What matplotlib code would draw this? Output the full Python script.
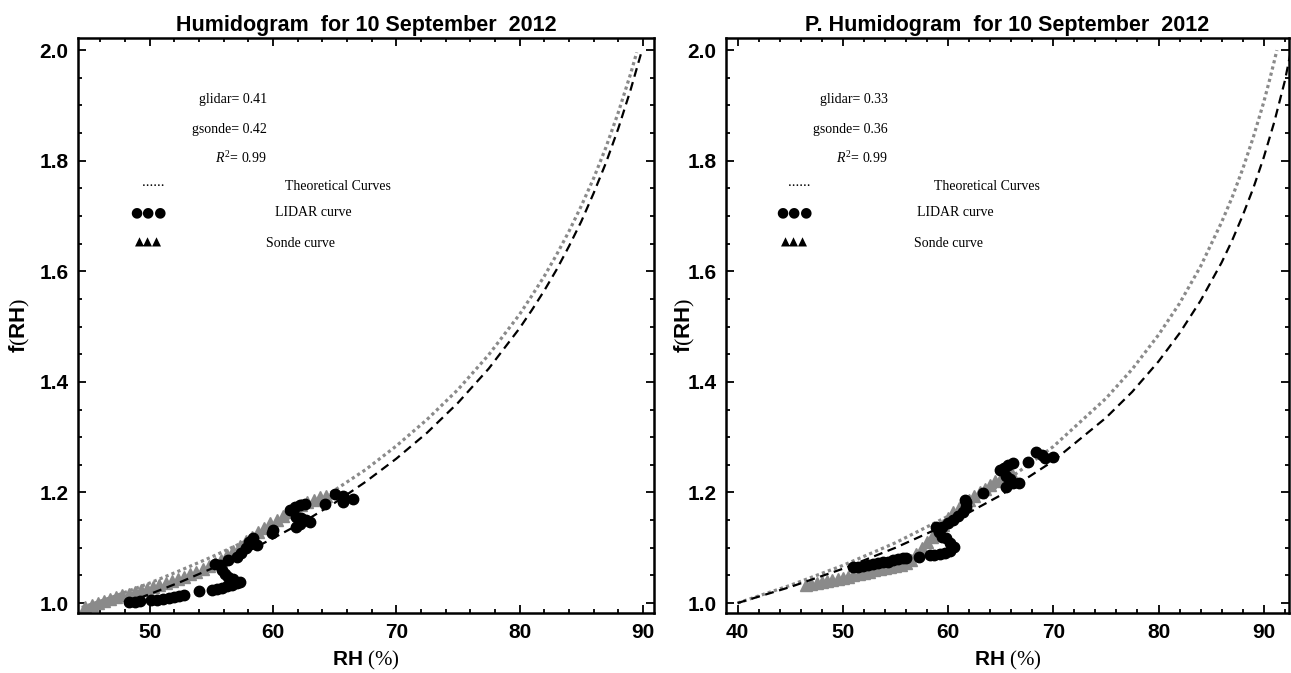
import matplotlib
matplotlib.use("Agg")
import matplotlib.pyplot as plt
from matplotlib import font_manager
from matplotlib.ticker import MultipleLocator

# ---- data ----
# left panel, theoretical curves
rh_theo_gray_l = [44.5, 47, 50, 52.5, 55, 57.5, 60, 62.5, 65, 67.5, 70, 72.5, 75, 77.5,
                  80, 81, 82, 83, 84, 85, 86, 87, 88, 89, 89.5]
f_theo_gray_l = [0.992, 1.011, 1.036, 1.059, 1.083, 1.109, 1.138, 1.169, 1.204, 1.241, 1.284,
                 1.332, 1.386, 1.449, 1.522, 1.556, 1.591, 1.630, 1.672, 1.718, 1.768, 1.824,
                 1.887, 1.957, 1.996]
rh_theo_black_l = [48.1, 50, 52.5, 55, 57.5, 60, 62.5, 65, 67.5, 70, 72.5, 75, 77.5, 80,
                   81, 82, 83, 84, 85, 86, 87, 88, 89, 89.9]
f_theo_black_l = [1.000, 1.016, 1.038, 1.062, 1.088, 1.117, 1.147, 1.181, 1.219, 1.261, 1.308,
                  1.362, 1.424, 1.497, 1.530, 1.565, 1.603, 1.645, 1.690, 1.741, 1.796, 1.858,
                  1.928, 1.998]

# left panel, LIDAR points
rh_lidar_l = [48.3, 48.8, 49.2, 50.1, 50.6, 51.1, 51.6, 52.0, 52.4, 52.8, 54.0, 55.1, 55.5,
              55.9, 56.3, 56.7, 57.1, 57.3, 56.8, 56.4, 56.1, 55.9, 55.7, 55.3, 56.4, 57.1,
              57.4, 57.8, 58.1, 58.4, 58.7, 59.9, 60.0, 61.4, 61.8, 62.2, 62.6, 61.9, 62.3,
              62.7, 63.0, 61.9, 62.2, 64.2, 65.0, 65.7, 65.7, 66.5]
f_lidar_l = [1.001, 1.002, 1.003, 1.005, 1.006, 1.008, 1.009, 1.011, 1.013, 1.015, 1.021, 1.023,
             1.025, 1.027, 1.030, 1.033, 1.036, 1.038, 1.043, 1.047, 1.052, 1.060, 1.069, 1.070,
             1.077, 1.084, 1.090, 1.099, 1.111, 1.117, 1.105, 1.126, 1.132, 1.168, 1.173, 1.177,
             1.180, 1.156, 1.153, 1.150, 1.146, 1.138, 1.143, 1.180, 1.197, 1.193, 1.183, 1.189]

# left panel, sonde points
rh_sonde_l = [44.8, 45.3, 45.8, 46.3, 46.8, 47.3, 47.8, 48.3, 48.8, 49.3, 49.8, 50.3, 50.8,
              51.3, 51.8, 52.3, 52.8, 53.3, 53.8, 54.3, 54.8, 55.3, 55.8, 56.3, 56.8, 57.3,
              57.8, 58.3, 58.8, 59.3, 59.8, 60.3, 60.8, 61.3, 61.8, 62.3, 62.8, 63.3, 63.8, 64.3]
f_sonde_l = [0.993, 0.996, 1.000, 1.004, 1.008, 1.011, 1.014, 1.017, 1.020, 1.023, 1.026, 1.029,
             1.033, 1.036, 1.040, 1.044, 1.048, 1.052, 1.057, 1.062, 1.067, 1.072, 1.078, 1.086,
             1.094, 1.103, 1.112, 1.120, 1.128, 1.136, 1.144, 1.151, 1.158, 1.165, 1.171, 1.177,
             1.182, 1.187, 1.191, 1.194]

# right panel, theoretical curves
rh_theo_gray_r = [40, 45, 50, 55, 60, 65, 70, 75, 77.5, 80, 82, 84, 86, 87, 88, 89, 90, 90.5,
                  91, 91.25]
f_theo_gray_r = [1.000, 1.032, 1.068, 1.109, 1.157, 1.214, 1.283, 1.370, 1.423, 1.485, 1.542,
                 1.609, 1.689, 1.734, 1.785, 1.842, 1.906, 1.942, 1.980, 2.000]
rh_theo_black_r = [40, 45, 50, 55, 60, 65, 70, 75, 77.5, 80, 82, 84, 86, 87, 88, 89, 90, 91,
                   92, 92.6]
f_theo_black_r = [1.000, 1.029, 1.062, 1.100, 1.143, 1.195, 1.257, 1.335, 1.382, 1.437, 1.488,
                  1.547, 1.616, 1.656, 1.701, 1.750, 1.806, 1.870, 1.944, 2.000]

# right panel, LIDAR points
rh_lidar_r = [51.0, 51.4, 51.9, 52.4, 52.9, 53.3, 53.8, 54.3, 54.8, 55.2, 55.7, 56.0, 57.2,
              58.3, 58.7, 59.2, 59.7, 60.2, 60.6, 60.2, 59.8, 59.4, 59.1, 58.9, 59.4, 60.0,
              60.5, 60.9, 61.4, 61.7, 61.7, 61.6, 63.3, 64.9, 65.3, 65.7, 66.2, 65.5, 65.9,
              66.2, 66.7, 65.5, 67.6, 68.4, 68.9, 69.2, 70.0]
f_lidar_r = [1.065, 1.066, 1.067, 1.069, 1.070, 1.072, 1.074, 1.075, 1.077, 1.079, 1.081, 1.082,
             1.084, 1.086, 1.087, 1.089, 1.091, 1.095, 1.101, 1.108, 1.117, 1.120, 1.129, 1.137,
             1.138, 1.144, 1.150, 1.157, 1.165, 1.174, 1.183, 1.187, 1.199, 1.240, 1.245, 1.249,
             1.254, 1.230, 1.224, 1.218, 1.218, 1.210, 1.256, 1.274, 1.268, 1.262, 1.265]

# right panel, sonde points
rh_sonde_r = [46.5, 47.0, 47.5, 48.0, 48.5, 49.0, 49.5, 50.0, 50.5, 51.0, 51.5, 52.0, 52.5,
              53.0, 53.5, 54.0, 54.5, 55.0, 55.5, 56.0, 56.5, 57.0, 57.5, 58.0, 58.5, 59.0,
              59.5, 60.0, 60.5, 61.0, 61.5, 62.0, 62.5, 63.0, 63.5, 64.0, 64.5, 65.0, 65.5, 66.0]
f_sonde_r = [1.032, 1.034, 1.036, 1.038, 1.040, 1.042, 1.044, 1.046, 1.048, 1.051, 1.053, 1.055,
             1.057, 1.059, 1.061, 1.063, 1.065, 1.067, 1.069, 1.072, 1.078, 1.088, 1.099, 1.110,
             1.120, 1.130, 1.141, 1.153, 1.164, 1.172, 1.179, 1.186, 1.193, 1.200, 1.207, 1.214,
             1.220, 1.226, 1.232, 1.237]

titles = ["Humidogram  for 10 September  2012", "P. Humidogram  for 10 September  2012"]
g_lidar = ["0.41", "0.33"]
g_sonde = ["0.42", "0.36"]
r2 = ["0.99", "0.99"]
xlims = [(44.2, 90.9), (38.9, 92.4)]
ylim = (0.982, 2.022)


def pick_font(names):
    have = set(f.name for f in font_manager.fontManager.ttflist)
    for n in names:
        if n in have:
            return n
    return "DejaVu Sans"


SANS = pick_font(["Liberation Sans Narrow", "Liberation Sans", "DejaVu Sans"])
SERIF = pick_font(["Liberation Serif", "DejaVu Serif"])

plt.rcParams["mathtext.fontset"] = "custom"
plt.rcParams["mathtext.rm"] = SERIF
plt.rcParams["mathtext.it"] = SERIF + ":italic"
plt.rcParams["mathtext.bf"] = SANS + ":bold"

W, H = 1291, 673
GRAY = "#8a8a8a"

fig = plt.figure(figsize=(W / 100, H / 100), dpi=100)
ax_l = fig.add_axes([78 / W, 60 / H, 576 / W, 575 / H])
ax_r = fig.add_axes([726 / W, 60 / H, 563 / W, 575 / H])


def put(x, y, s, ha="center", **kw):
    fig.text(x / W, 1 - y / H, s, ha=ha, va="center", **kw)


panels = [
    (ax_l, rh_theo_gray_l, f_theo_gray_l, rh_theo_black_l, f_theo_black_l,
     rh_lidar_l, f_lidar_l, rh_sonde_l, f_sonde_l),
    (ax_r, rh_theo_gray_r, f_theo_gray_r, rh_theo_black_r, f_theo_black_r,
     rh_lidar_r, f_lidar_r, rh_sonde_r, f_sonde_r),
]
ylabel_x = [-0.080, -0.052]

for i, (ax, xg, yg, xb, yb, xl, yl, xs, ys) in enumerate(panels):
    ax.plot(xs, ys, linestyle="none", marker="^", ms=9, color=GRAY, mec=GRAY)
    ax.plot(xg, yg, color=GRAY, lw=2.3, linestyle=(0, (1.0, 1.0)))
    ax.plot(xb, yb, color="black", lw=1.6, linestyle=(0, (4, 2.5)))
    ax.plot(xl, yl, linestyle="none", marker="o", ms=7.5, color="black")

    ax.set_xlim(*xlims[i])
    ax.set_ylim(*ylim)
    ax.xaxis.set_major_locator(MultipleLocator(10))
    ax.xaxis.set_minor_locator(MultipleLocator(2))
    ax.yaxis.set_major_locator(MultipleLocator(0.2))
    ax.yaxis.set_minor_locator(MultipleLocator(0.05))
    ax.tick_params(which="both", direction="in", top=True, right=True, width=1.3)
    ax.tick_params(which="major", length=6, pad=7)
    ax.tick_params(which="minor", length=3)
    for lab in ax.get_xticklabels() + ax.get_yticklabels():
        lab.set_fontfamily(SANS)
        lab.set_fontweight("bold")
        lab.set_fontsize(15)
    for sp in ax.spines.values():
        sp.set_linewidth(1.8)

    ax.set_title(titles[i], fontfamily=SANS, fontweight="bold", fontsize=15.5, pad=5)
    ax.set_xlabel(r"$\mathbf{RH}\ \mathrm{(\%)}$", fontsize=15, labelpad=5)
    ax.set_ylabel(r"$\mathbf{f}\mathrm{(}\mathbf{RH}\mathrm{)}$", fontsize=16)
    ax.yaxis.set_label_coords(ylabel_x[i], 0.5)

# in-plot annotations (serif, like the original)
txt = dict(fontfamily=SERIF, fontsize=10)
for xr, xd, xt, xl_, xs_, i in [(267, 153, 338, 313, 300, 0), (888, 799, 987, 955, 948, 1)]:
    put(xr, 100, "glidar= " + g_lidar[i], ha="right", **txt)
    put(xr, 129, "gsonde= " + g_sonde[i], ha="right", **txt)
    put(xr, 158, r"$\mathit{R}^2$= " + r2[i], ha="right", **txt)
    put(xd, 183, "......", fontfamily=SERIF, fontsize=11)
    put(xt, 187, "Theoretical Curves", **txt)
    put(xd - 5, 212, "\u25cf\u25cf\u25cf", fontfamily="DejaVu Sans", fontsize=10)
    put(xl_, 212, "LIDAR curve", **txt)
    put(xd - 5, 242, "\u25b2\u25b2\u25b2", fontfamily="DejaVu Sans", fontsize=8.5)
    put(xs_, 243, "Sonde curve", **txt)

fig.savefig("out.png", dpi=100)
